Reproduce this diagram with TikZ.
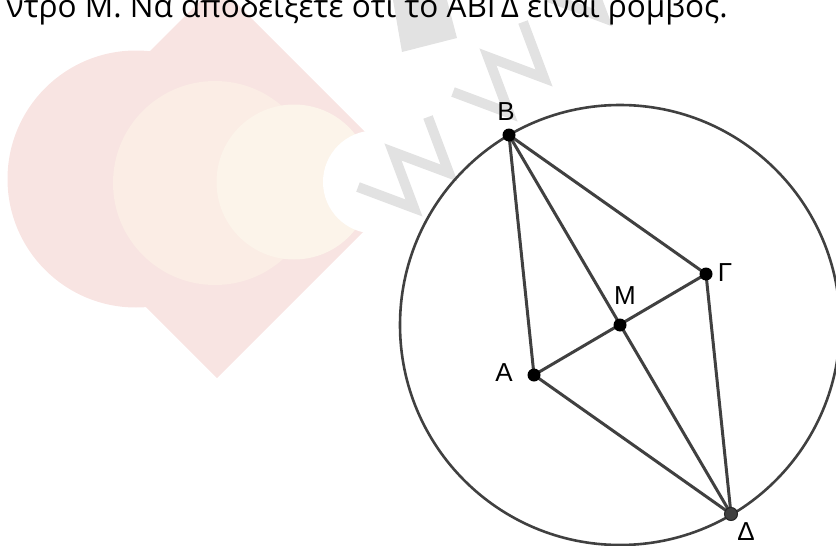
\documentclass[tikz,border=0pt]{standalone}
\usepackage{fontspec}
\setmainfont{Open Sans}
\newfontfamily\labelfont{Liberation Sans}
\definecolor{seggray}{RGB}{64,64,64}
\definecolor{pinkwm}{RGB}{248,228,226}
\definecolor{peachwm}{RGB}{251,237,229}
\definecolor{creamwm}{RGB}{252,244,234}
\definecolor{greywm}{RGB}{226,226,226}
\tikzset{
  seg/.style={draw=seggray, line width=3pt},
  pt/.style={circle, fill=black, inner sep=0pt, minimum size=13pt},
  ptlabel/.style={font=\labelfont\fontsize{26}{30}\selectfont, inner sep=0pt},
  wmark/.style={draw=greywm, line width=10pt, line join=miter},
}
\begin{document}
\begin{tikzpicture}[x=1pt,y=-1pt]
\useasboundingbox (0,0) rectangle (836,546);
\fill[pinkwm] (217,-16) -- (414,181) -- (217,378) -- (20,181) -- cycle;
\fill[pinkwm] (136,179) circle (128.5);
\fill[peachwm] (215,183) circle (102);
\fill[creamwm] (294,182) circle (77.5);
\fill[white] (374.5,182) circle (51.5);
\fill[greywm] (393,0) -- (402,52) -- (457,38) -- (447,0) -- cycle;
\foreach \s in {0,95,190}
  \draw[wmark, shift={(\s,-\s)}] (428,117) -- (449,173) -- (393,152) -- (414,208) -- (358,187);

\node[anchor=base east, inner sep=0pt, font=\fontsize{31.5}{36}\selectfont] (task) at (728,17) {ντρο Μ. Να αποδείξετε ότι το ΑΒΓΔ είναι ρόμβος.};

\coordinate (A) at (534,375);
\coordinate (B) at (509,135);
\coordinate (G) at (706,274);
\coordinate (D) at (731,514);
\coordinate (M) at (620,325);

\draw[seg, line width=2.6pt] (M) circle (220);
\draw[seg] (A) -- (B) -- (G) -- (D) -- cycle;
\draw[seg] (A) -- (G);
\draw[seg] (B) -- (D);

\node[pt] (dotA) at (A) {};
\node[pt] (dotB) at (B) {};
\node[pt] (dotG) at (G) {};
\node[pt] (dotM) at (M) {};
\node[pt, fill=seggray, draw=black!85, line width=1pt] (dotD) at (D) {};

\node[ptlabel] (labA) at (504,373) {Α};
\node[ptlabel] (labB) at (506,112) {Β};
\node[ptlabel] (labG) at (725,273) {Γ};
\node[ptlabel] (labM) at (625,296) {Μ};
\node[ptlabel] (labD) at (746,532) {Δ};
\end{tikzpicture}
\end{document}
